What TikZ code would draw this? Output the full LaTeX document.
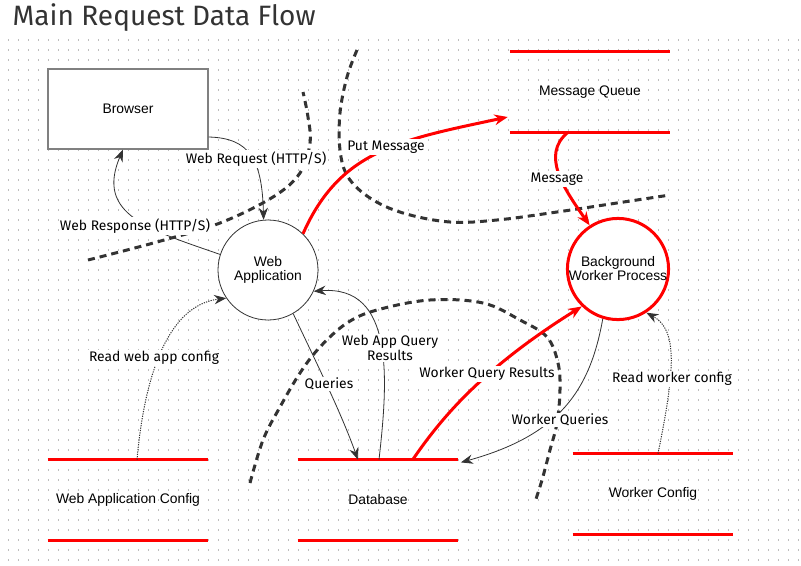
\documentclass[tikz,border=0pt]{standalone}
\usepackage{fontspec}
\setmainfont{Liberation Sans}
\newfontfamily\lblfont{Fira Sans}
\usepackage{tikz}
\usetikzlibrary{arrows.meta, positioning, backgrounds}
\definecolor{flowred}{HTML}{FF0000}
\definecolor{ink}{HTML}{333333}
\definecolor{dotgrey}{HTML}{BDBDBD}

\tikzset{
  process/.style={circle, draw=ink, line width=0.6pt, fill=white, minimum size=75pt,
                  inner sep=0pt, align=center, font=\fontsize{10.4}{10.5}\selectfont},
  redprocess/.style={process, draw=flowred, line width=2.25pt},
  entity/.style={rectangle, draw=gray, line width=1pt, fill=white, minimum width=120pt,
                 minimum height=60pt, font=\fontsize{10.4}{11}\selectfont},
  store/.style={rectangle, minimum width=120pt, minimum height=60pt, inner sep=0pt,
                font=\fontsize{10.4}{11}\selectfont},
  storeline/.style={flowred, line width=2.25pt},
  flow/.style={ink, line width=0.6pt, -{Stealth[length=9pt,width=7pt]}},
  redflow/.style={flowred, line width=2.25pt, -{Stealth[length=10pt,width=8pt]}},
  cfgflow/.style={flow, line width=0.75pt, dash pattern=on 0.9pt off 0.9pt},
  boundary/.style={ink, line width=2.25pt, dash pattern=on 5.25pt off 3.75pt},
  flowlabel/.style={fill=white, inner sep=1pt, align=center, text=black,
                    font=\lblfont\fontsize{10.4}{11}\selectfont},
  griddots/.style={dotgrey, line width=0.8pt, dash pattern=on 0.8pt off 6.7pt}
}

\begin{document}
\begin{tikzpicture}[x=0.75pt, y=-0.75pt]
\useasboundingbox (0,0) rectangle (801,565);
\begin{scope}[on background layer]
\fill[white] (0,0) rectangle (801,565);
\foreach \y in {40,50,...,560}
  \draw[griddots] (8,\y) -- (801,\y);
\end{scope}
%
\node[anchor=base west, text=ink, font=\lblfont\fontsize{21}{24}\selectfont] (title) at (8,25) {Main Request Data Flow};
%
\node[entity] (br) at (128,109) {Browser};
\node[process] (wa) at (268,270) {Web\\Application};
\node[redprocess] (bw) at (618,269) {Background\\Worker Process};
\node[store] (mq) at (590,92) {Message Queue};
\node[store] (db) at (378,500) {Database};
\node[store] (wac) at (128,500) {Web Application Config};
\node[store] (wc) at (653,494) {Worker Config};
\foreach \s in {mq,db,wac,wc}
  \draw[storeline] (\s.north west) -- (\s.north east) (\s.south west) -- (\s.south east);
%
% trust boundaries
\draw[boundary] plot[smooth, tension=0.6] coordinates {(88,260) (157,242) (220,223) (273,197) (300,173) (310,143) (308,117) (303,92)};
\draw[boundary] plot[smooth, tension=0.6] coordinates {(357,50) (347,77) (340,113) (340,150) (348,177) (370,198) (403,213) (450,222) (497,220) (557,212) (617,203) (670,195)};
\draw[boundary] plot[smooth, tension=0.6] coordinates {(250,483) (263,440) (280,407) (300,373) (320,347) (347,323) (377,310) (430,300) (483,303) (520,320) (547,337) (558,363) (560,390) (557,423) (550,450) (542,480) (535,502)};
%
% flows
\draw[flow] ([yshift=-21pt]br.east) .. controls (250,138) and (262,160) .. (wa.95);
\draw[flow] (wa.162) .. controls (150,230) and (95,215) .. ([xshift=-3.75pt]br.south);
\draw[redflow] (wa.46) .. controls (340,150) and (400,140) .. ([xshift=-1.5pt,yshift=-18.75pt]mq.west);
\draw[redflow] ([xshift=-16.5pt]mq.south) .. controls (540,155) and (565,190) .. (bw.123);
\draw[flow] (wa.-60) .. controls (315,360) and (340,410) .. ([xshift=-15pt]db.north);
\draw[flow] ([xshift=0.75pt]db.north) .. controls (388,380) and (395,285) .. (wa.-25);
\draw[redflow] ([xshift=26pt]db.north) .. controls (440,420) and (480,370) .. (bw.226);
\draw[flow] (bw.253) .. controls (590,390) and (560,435) .. ([xshift=2pt,yshift=-2pt]db.north east);
\draw[cfgflow] ([xshift=6.75pt]wac.north) .. controls (145,370) and (170,305) .. (wa.214);
\draw[cfgflow] ([xshift=3.75pt]wc.north) .. controls (675,370) and (678,330) .. (bw.303);
%
% flow labels
\node[flowlabel] (lreq) at (256,159) {Web Request (HTTP/S)};
\node[flowlabel] (lresp) at (135,226) {Web Response (HTTP/S)};
\node[flowlabel] (lput) at (386,147) {Put Message};
\node[flowlabel] (lmsg) at (557,179) {Message};
\node[flowlabel] (lqry) at (329,384) {Queries};
\node[flowlabel] (lwaqr) at (390,348) {Web App Query\\Results};
\node[flowlabel] (lwqr) at (487,374) {Worker Query Results};
\node[flowlabel] (lwq) at (560,420) {Worker Queries};
\node[flowlabel] (lwac) at (154,358) {Read web app config};
\node[flowlabel] (lwc) at (672,379) {Read worker config};
\end{tikzpicture}
\end{document}
